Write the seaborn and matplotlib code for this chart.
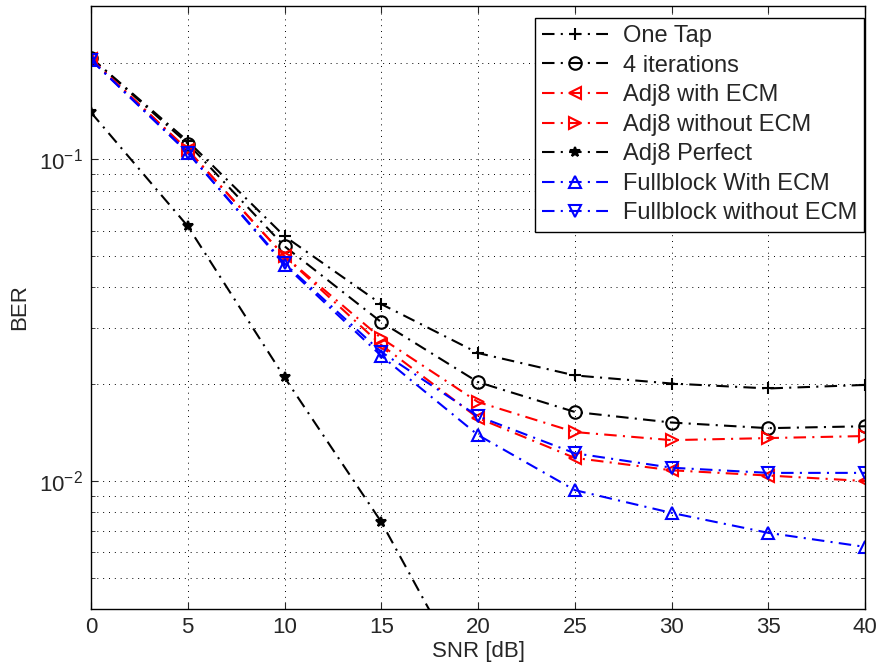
import numpy as np
import pandas as pd
import matplotlib
matplotlib.use("Agg")
import matplotlib.pyplot as plt
import seaborn as sns

snr = [0, 5, 10, 15, 20, 25, 30, 35, 40]
one_tap = [0.207, 0.114, 0.0577, 0.0355, 0.0250, 0.0213, 0.0201, 0.0194, 0.0199]
iter4 = [0.207, 0.112, 0.0537, 0.0312, 0.0203, 0.0164, 0.0152, 0.0146, 0.0148]
adj8_ecm = [0.205, 0.107, 0.0500, 0.0265, 0.0157, 0.0118, 0.0108, 0.0104, 0.0100]
adj8_noecm = [0.205, 0.107, 0.0500, 0.0278, 0.0176, 0.0142, 0.0134, 0.0136, 0.0138]
snr_perfect = [0, 5, 10, 15, 20]
adj8_perfect = [0.140, 0.0620, 0.0210, 0.00746, 0.0021]
full_ecm = [0.204, 0.105, 0.0470, 0.0245, 0.0139, 0.00937, 0.00796, 0.0069, 0.00624]
full_noecm = [0.204, 0.105, 0.0475, 0.0252, 0.0159, 0.0122, 0.0110, 0.0106, 0.0106]

series = [
    ("One Tap", snr, one_tap, "k", "+"),
    ("4 iterations", snr, iter4, "k", "o"),
    ("Adj8 with ECM", snr, adj8_ecm, "r", "<"),
    ("Adj8 without ECM", snr, adj8_noecm, "r", ">"),
    ("Adj8 Perfect", snr_perfect, adj8_perfect, "k", "*"),
    ("Fullblock With ECM", snr, full_ecm, "b", "^"),
    ("Fullblock without ECM", snr, full_noecm, "b", "v"),
]

sns.set_style("ticks")
plt.rcParams["font.family"] = ["Liberation Sans", "DejaVu Sans"]

fig = plt.figure(figsize=(8.8, 6.71), dpi=100)
ax = fig.add_axes([0.1034, 0.0924, 0.8796, 0.8987])

for name, xs, ys, c, m in series:
    df = pd.DataFrame({"SNR": xs, "BER": ys})
    filled = m == "*"
    sns.lineplot(data=df, x="SNR", y="BER", ax=ax, color=c, marker=m,
                 linestyle=(0, (6, 3, 1, 3)), linewidth=1.5,
                 markersize=7 if filled else 9,
                 markerfacecolor=c if filled else "none",
                 markeredgecolor=c, markeredgewidth=1.5, label=name)

ax.set_yscale("log")
ax.set_xlim(0, 40)
ax.set_ylim(0.004, 0.3)
ax.set_xticks(range(0, 41, 5))
ax.grid(True, which="major", linestyle=(0, (1, 5)), color="k", linewidth=0.7)
ax.grid(True, which="minor", axis="y", linestyle=(0, (1, 5)), color="k", linewidth=0.7)
ax.tick_params(which="both", direction="in", top=True, right=True, labelsize=16)
ax.tick_params(which="major", length=5, pad=6)
ax.tick_params(which="minor", length=3)
for s in ax.spines.values():
    s.set_linewidth(1.0)
    s.set_color("k")
ax.set_xlabel("SNR [dB]", fontsize=16, labelpad=2)
ax.set_ylabel("BER", fontsize=16, labelpad=6)

leg = ax.legend(loc="upper right", bbox_to_anchor=(0.9987, 0.98), fontsize=17,
                frameon=True, fancybox=False, edgecolor="k", framealpha=1,
                handlelength=2.8, handletextpad=0.6, borderaxespad=0,
                borderpad=0.3, labelspacing=0.32)
leg.get_frame().set_linewidth(1.0)

fig.savefig("out.png", dpi=100)
